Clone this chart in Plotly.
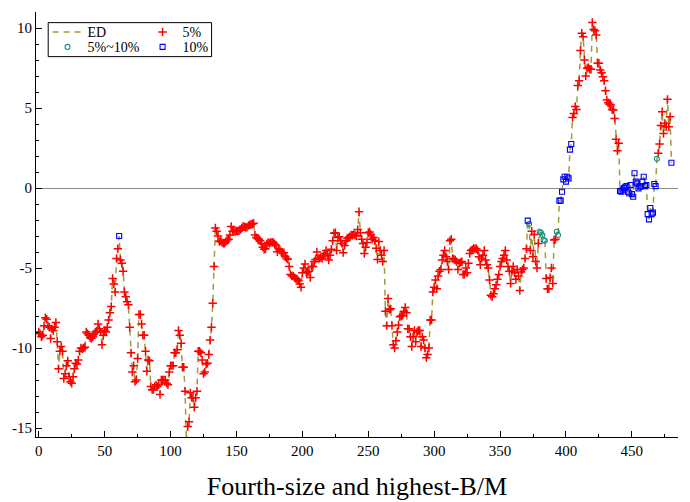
import plotly.graph_objects as go

# ---- data ----
ed_values = [
    -9.0, -9.1, -9.3, -9.2, -8.6, -8.1, -8.2, -8.6, -8.7, -9.4,
    -8.8, -8.9, -8.7, -8.4, -9.6, -11.3, -10.2, -9.9, -10.2, -11.9,
    -11.6, -11.1, -10.8, -11.8, -12.1, -12.2, -11.8, -11.3, -10.95, -11.0,
    -10.75, -10.2, -10.0, -10.05, -10.0, -9.95, -9.0, -9.1, -9.2, -9.35,
    -9.4, -9.3, -9.1, -9.0, -8.95, -8.5, -8.8, -9.0, -9.8, -9.2,
    -8.9, -9.0, -8.7, -8.25, -7.8, -7.4, -5.65, -6.0, -6.5, -4.4,
    -3.8, -3.0, -4.5, -4.7, -5.2, -6.5, -6.8, -7.1, -7.3, -8.7,
    -10.3, -11.5, -11.1, -12.1, -12.0, -10.65, -7.9, -7.9, -8.5, -9.2,
    -9.2, -10.2, -11.45, -10.75, -10.8, -12.4, -12.6, -12.6, -12.4, -12.3,
    -12.4, -12.3, -12.9, -12.0, -12.0, -12.0, -12.0, -12.2, -12.3, -11.5,
    -11.1, -11.1, -11.1, -10.3, -10.3, -10.1, -8.9, -9.2, -9.7, -11.2,
    -11.2, -12.7, -15.85, -14.9, -14.6, -12.8, -13.1, -13.1, -13.7, -13.1,
    -12.7, -10.2, -10.2, -10.3, -10.75, -11.6, -11.5, -11.0, -10.95, -10.4,
    -9.5, -8.7, -7.2, -4.9, -2.5, -2.7, -3.0, -3.35, -3.3, -3.4,
    -3.45, -3.46, -3.35, -3.25, -3.2, -2.94, -2.4, -2.7, -2.7, -2.72,
    -2.68, -2.7, -2.67, -2.6, -2.5, -2.4, -2.42, -2.45, -2.46, -2.35,
    -2.3, -2.28, -2.25, -2.2, -2.94, -3.1, -3.15, -3.2, -3.3, -3.46,
    -3.7, -3.83, -3.8, -3.5, -3.4, -3.45, -3.4, -3.38, -3.4, -3.5,
    -3.6, -3.98, -3.8, -3.9, -4.0, -4.04, -4.04, -4.3, -4.4, -4.45,
    -4.9, -5.4, -5.5, -5.5, -5.6, -5.65, -5.7, -5.8, -6.0, -6.2,
    -5.3, -5.0, -4.75, -5.3, -5.25, -5.2, -5.6, -4.9, -4.9, -4.6,
    -4.46, -4.0, -4.4, -4.4, -4.35, -4.4, -4.25, -4.1, -3.9, -4.2,
    -4.5, -4.2, -3.83, -3.3, -2.83, -2.8, -3.9, -3.1, -3.04, -3.3,
    -3.46, -4.04, -3.6, -3.3, -3.15, -3.1, -3.05, -2.94, -2.95, -2.9,
    -2.95, -3.0, -2.6, -1.48, -2.8, -3.2, -3.46, -4.1, -3.7, -3.4,
    -2.8, -2.75, -2.9, -3.2, -3.1, -3.3, -3.77, -4.46, -3.35, -3.9,
    -4.2, -4.6, -3.9, -7.7, -8.6, -6.9, -7.6, -7.55, -8.6, -9.8,
    -10.0, -9.55, -9.0, -8.56, -8.04, -8.0, -7.95, -7.7, -7.46, -7.8,
    -8.8, -8.8, -9.3, -9.9, -9.3, -8.9, -9.6, -9.0, -8.9, -8.9,
    -9.9, -9.3, -9.5, -10.0, -10.6, -10.4, -10.0, -8.25, -8.25, -6.5,
    -6.2, -5.75, -6.3, -5.5, -5.2, -5.1, -4.5, -4.2, -3.9, -4.3,
    -4.6, -5.1, -3.3, -3.2, -4.4, -4.45, -4.5, -4.6, -5.1, -4.7,
    -4.65, -4.6, -5.4, -5.4, -5.0, -5.3, -4.7, -4.1, -3.9, -3.85,
    -3.77, -3.8, -3.8, -3.9, -4.3, -4.8, -4.4, -4.2, -3.9, -4.5,
    -4.8, -5.0, -5.75, -6.7, -6.8, -6.6, -6.3, -6.05, -5.7, -5.4,
    -4.9, -4.6, -4.4, -4.2, -3.9, -4.5, -4.9, -5.2, -5.96, -5.2,
    -4.9, -5.3, -5.7, -5.1, -5.5, -6.4, -5.25, -5.1, -5.0, -4.4,
    -3.8, -2.04, -2.25, -3.9, -2.7, -4.3, -2.9, -4.6, -5.0, -3.46,
    -2.73, -2.8, -2.94, -3.25, -3.3, -5.65, -6.3, -6.3, -5.6, -5.0,
    -5.96, -3.25, -3.2, -2.73, -2.94, -0.79, -0.79, -0.23, 0.54, 0.7,
    0.4, 0.7, 0.6, 2.4, 2.75, 4.4, 4.65, 5.1, 4.9, 6.4,
    6.7, 8.6, 9.67, 9.46, 8.0, 7.0, 7.48, 7.54, 7.42, 7.42,
    10.35, 9.9, 9.83, 9.56, 7.8, 7.8, 7.38, 7.2, 6.96, 6.7,
    6.08, 5.5, 5.33, 5.23, 5.19, 4.9, 4.88, 4.35, 3.04, 2.33,
    2.8, -0.19, -0.23, -0.1, 0.0, 0.08, 0.12, -0.23, -0.33, 0.19,
    -0.38, -0.55, 0.92, 0.4, 0.29, -0.02, 0.08, 0.12, 0.4, 0.7,
    0.12, 0.19, -1.63, -1.96, -1.25, -1.63, -1.54, 0.25, 0.12, 1.83,
    2.17, 2.75, 3.9, 4.77, 3.4, 4.04, 3.83, 5.54, 3.83, 4.46, 1.58,
]
x_index = list(range(len(ed_values)))

# indices classified as 10% and 5%~10% significance
high_idx = [61, 371] + list(range(395, 405)) + list(range(441, 469)) + [480]
mid_idx = [372, 380, 381, 382, 383, 384, 393, 394, 469]

x_ticks = [0, 50, 100, 150, 200, 250, 300, 350, 400, 450]
y_ticks = [-15, -10, -5, 0, 5, 10]
x_title = "Fourth-size and highest-B/M"
series_names = ["ED", "5%", "5%~10%", "10%"]

high_set, mid_set = set(high_idx), set(mid_idx)
low_idx = [i for i in x_index if i not in high_set and i not in mid_set]

FONT = "Liberation Serif, Times New Roman, serif"

fig = go.Figure()
fig.add_trace(go.Scatter(
    x=x_index, y=ed_values, mode="lines", name=series_names[0],
    line=dict(color="rgb(160,155,60)", width=1.5, dash="6px,5px"),
    legend="legend"))
fig.add_trace(go.Scatter(
    x=low_idx, y=[ed_values[i] for i in low_idx], mode="markers",
    name=series_names[1],
    marker=dict(symbol="cross-thin", size=6, color="red",
                line=dict(color="red", width=1.5)),
    legend="legend2"))
fig.add_trace(go.Scatter(
    x=mid_idx, y=[ed_values[i] for i in mid_idx], mode="markers",
    name=series_names[2],
    marker=dict(symbol="circle-open", size=5, color="rgb(20,140,140)",
                line=dict(width=1.1)),
    legend="legend3"))
fig.add_trace(go.Scatter(
    x=high_idx, y=[ed_values[i] for i in high_idx], mode="markers",
    name=series_names[3],
    marker=dict(symbol="square-open", size=5, color="blue",
                line=dict(width=1.1)),
    legend="legend4"))

legend_common = dict(
    bgcolor="rgba(0,0,0,0)", borderwidth=0, orientation="v",
    font=dict(family=FONT, size=14, color="black"),
    tracegroupgap=0, itemwidth=30, yanchor="middle", xanchor="left",
)
row1, row2 = 0.952, 0.917
col1, col2 = 0.018, 0.166

fig.update_layout(
    width=690, height=502,
    margin=dict(l=36, r=12, t=12, b=65),
    paper_bgcolor="white", plot_bgcolor="white",
    font=dict(family=FONT, size=15, color="black"),
    showlegend=True,
    legend=dict(x=col1, y=row1, **legend_common),
    legend2=dict(x=col2, y=row1, **legend_common),
    legend3=dict(x=col1, y=row2, **legend_common),
    legend4=dict(x=col2, y=row2, **legend_common),
    xaxis=dict(
        range=[-2.1, 485], tickvals=x_ticks, ticktext=[str(v) for v in x_ticks],
        showline=True, linecolor="black", linewidth=1, mirror=False,
        ticks="inside", ticklen=6, tickcolor="black",
        minor=dict(dtick=25, tick0=0, ticks="inside", ticklen=3, tickcolor="black"),
        showgrid=False, zeroline=False, automargin=False,
        tickfont=dict(family=FONT, size=15),
        title=dict(text=x_title, font=dict(family=FONT, size=26), standoff=18),
    ),
    yaxis=dict(
        range=[-15.56, 11.0], tickvals=y_ticks, ticktext=[str(v) for v in y_ticks],
        showline=True, linecolor="black", linewidth=1, mirror=False,
        ticks="inside", ticklen=6, tickcolor="black",
        minor=dict(dtick=1, tick0=0, ticks="inside", ticklen=3, tickcolor="black"),
        showgrid=False, zeroline=True, zerolinecolor="rgb(140,140,140)", zerolinewidth=1,
        automargin=False,
        tickfont=dict(family=FONT, size=15),
    ),
    shapes=[dict(type="rect", xref="paper", yref="paper",
                 x0=0.019, x1=0.2735, y0=0.895, y1=0.975,
                 line=dict(color="black", width=1), fillcolor="rgba(0,0,0,0)",
                 layer="above")],
)

fig.write_html("out.html")
